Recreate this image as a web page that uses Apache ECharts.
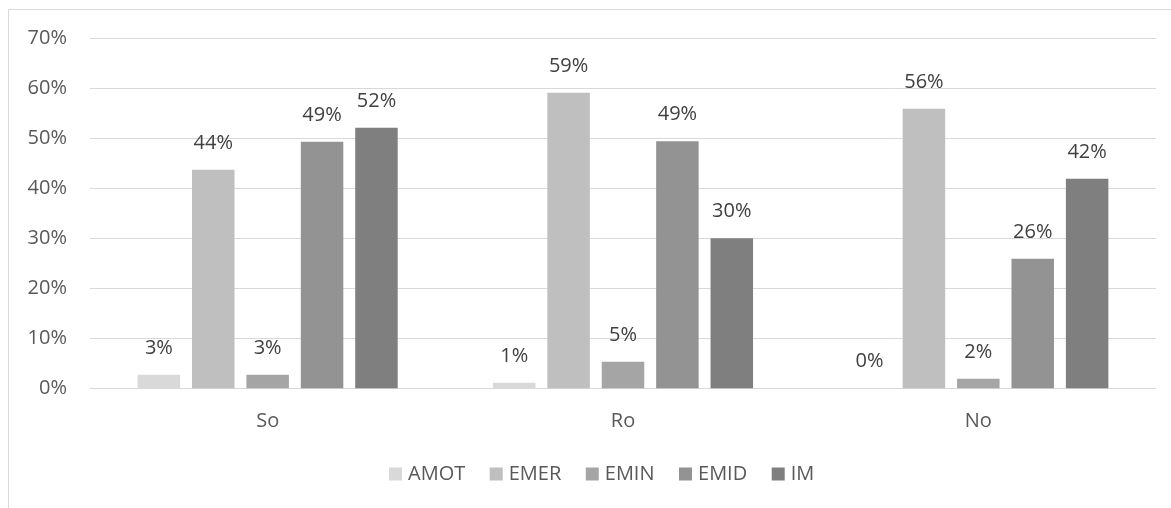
<!DOCTYPE html>
<html>
<head>
<meta charset="utf-8">
<script src="https://cdn.jsdelivr.net/npm/echarts@6/dist/echarts.min.js"></script>
<style>
  html, body { margin: 0; padding: 0; background: #ffffff; }
  #chart { width: 1171px; height: 508px; }
</style>
</head>
<body>
<div id="chart"></div>
<script>
// Groups along the x axis
const categories = ['So', 'Ro', 'No'];

// Series names (legend order)
const seriesNames = ['AMOT', 'EMER', 'EMIN', 'EMID', 'IM'];

// Shares in percent, one value per group (So, Ro, No)
const amot = [2.7, 1.1, 0.0];
const emer = [43.7, 59.1, 55.9];
const emin = [2.7, 5.3, 1.9];
const emid = [49.3, 49.4, 25.9];
const im   = [52.1, 30.0, 41.9];

// Y axis ticks
const yTicks = [0, 10, 20, 30, 40, 50, 60, 70];

const seriesValues = [amot, emer, emin, emid, im];
const seriesColors = ['#d9d9d9', '#bfbfbf', '#a5a5a5', '#939393', '#7f7f7f'];

const FONT = '"Open Sans", "DejaVu Sans", sans-serif';

const chart = echarts.init(document.getElementById('chart'), null, { renderer: 'canvas' });

const option = {
  backgroundColor: '#ffffff',
  animation: false,
  textStyle: { fontFamily: FONT },
  graphic: [{
    type: 'rect',
    silent: true,
    shape: { x: 8.5, y: 9.5, width: 1200, height: 600 },
    style: { fill: 'none', stroke: '#d9d9d9', lineWidth: 1 }
  }],
  legend: {
    data: seriesNames,
    left: 384,
    top: 459,
    itemWidth: 13,
    itemHeight: 13,
    itemGap: 24.5,
    icon: 'rect',
    textStyle: { fontFamily: FONT, fontSize: 20, color: '#595959', padding: [0, 0, 0, 1] }
  },
  grid: { left: 90, right: 15, top: 38.3, bottom: 119.7, containLabel: false },
  xAxis: {
    type: 'category',
    data: categories,
    axisLine: { show: true, lineStyle: { color: '#d9d9d9', width: 1 } },
    axisTick: { show: false },
    axisLabel: { fontFamily: FONT, fontSize: 20, color: '#595959', margin: 23 }
  },
  yAxis: {
    type: 'value',
    min: yTicks[0],
    max: yTicks[yTicks.length - 1],
    interval: 10,
    axisLine: { show: false },
    axisTick: { show: false },
    splitLine: { lineStyle: { color: '#d9d9d9', width: 1 } },
    axisLabel: {
      fontFamily: FONT, fontSize: 20, color: '#595959', margin: 23,
      formatter: v => v + '%'
    }
  },
  series: seriesNames.map((name, i) => ({
    name: name,
    type: 'bar',
    data: seriesValues[i],
    barWidth: 42.5,
    barGap: '28%',
    itemStyle: { color: seriesColors[i] },
    label: {
      show: true,
      position: 'top',
      distance: 17,
      fontFamily: FONT,
      fontSize: 20,
      color: '#404040',
      formatter: p => Math.round(p.value) + '%'
    }
  }))
};

chart.setOption(option);
</script>
</body>
</html>
